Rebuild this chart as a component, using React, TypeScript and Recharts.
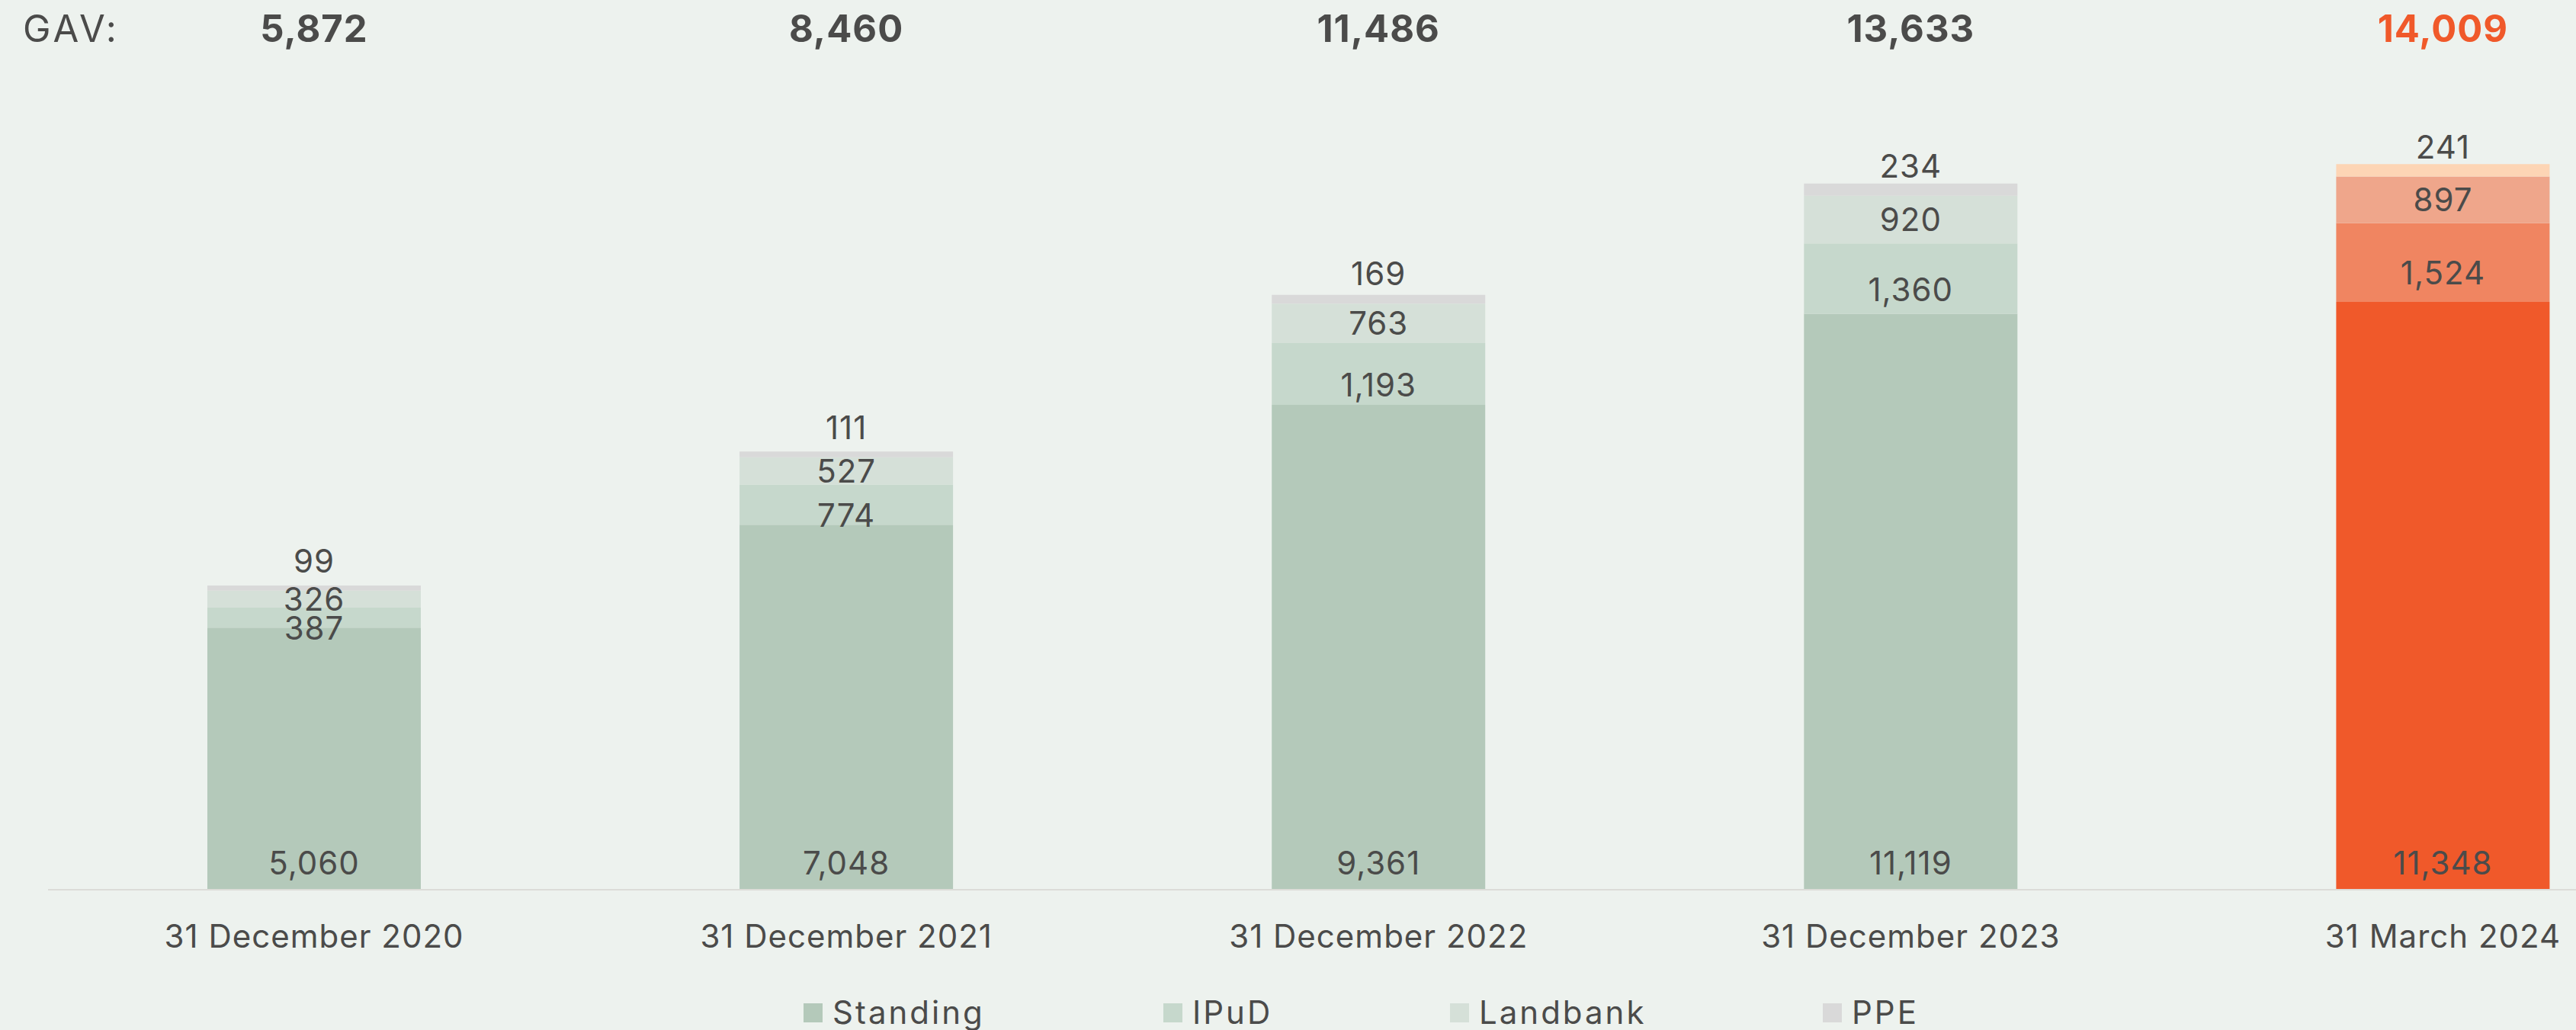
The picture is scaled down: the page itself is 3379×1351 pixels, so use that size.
import React from 'react';
import { BarChart, Bar, XAxis, YAxis, Cell, LabelList } from 'recharts';

const categories = ['31 December 2020', '31 December 2021', '31 December 2022', '31 December 2023', '31 March 2024'];
const standing = [5060, 7048, 9361, 11119, 11348];
const ipud = [387, 774, 1193, 1360, 1524];
const landbank = [326, 527, 763, 920, 897];
const ppe = [99, 111, 169, 234, 241];
const gav = [5872, 8460, 11486, 13633, 14009];
const seriesNames = ['Standing', 'IPuD', 'Landbank', 'PPE'];

const GREEN = ['#b4c9ba', '#c6d8cc', '#d5e0d8', '#d9d9d9'];
const ORANGE = ['#f0592a', '#f08561', '#efa68b', '#fdd5b5'];
const HIGHLIGHT = 4;

const FONT = 'Inter, "Noto Sans", sans-serif';
const TEXT = '#4b4b4a';
const BG = '#edf2ee';
const LEGEND_LEFT = [1054, 1526, 1902, 2391];

const data = categories.map((c, i) => ({
  idx: i,
  name: c,
  standing: standing[i],
  ipud: ipud[i],
  landbank: landbank[i],
  ppe: ppe[i],
  gav: gav[i],
}));

const fmt = (v: number) => v.toLocaleString('en-US');

function box(props: any) {
  const vb = props.viewBox || {};
  return {
    x: props.x ?? vb.x,
    y: props.y ?? vb.y,
    width: props.width ?? vb.width,
    height: props.height ?? vb.height,
  };
}

const labelStyle = { fontSize: 42, fontFamily: FONT, fill: TEXT, letterSpacing: 1 } as any;

const StandingLabel = (props: any) => {
  const { x, y, width, height } = box(props);
  return (
    <text x={x + width / 2} y={y + height - 20} textAnchor="middle" style={labelStyle}>
      {fmt(props.value)}
    </text>
  );
};

const IpudLabel = (props: any) => {
  const { x, y, width, height } = box(props);
  return (
    <text x={x + width / 2} y={y + height / 2 + 14} dy="0.36em" textAnchor="middle" style={labelStyle}>
      {fmt(props.value)}
    </text>
  );
};

const LandbankLabel = (props: any) => {
  const { x, y, width, height } = box(props);
  return (
    <text x={x + width / 2} y={y + height / 2} dy="0.36em" textAnchor="middle" style={labelStyle}>
      {fmt(props.value)}
    </text>
  );
};

const PpeLabel = (props: any) => {
  const { x, y, width, height } = box(props);
  return (
    <text x={x + width / 2} y={y + height - 24} textAnchor="middle" style={labelStyle}>
      {fmt(props.value)}
    </text>
  );
};

const GavLabel = (props: any) => {
  const { x, width } = box(props);
  const i = props.index;
  return (
    <text x={x + width / 2} y={55} textAnchor="middle" fontSize={49} fontWeight={700} fontFamily={FONT} fill={i === HIGHLIGHT ? ORANGE[0] : TEXT} style={{ letterSpacing: 1 }}>
      {fmt(gav[i])}
    </text>
  );
};

const keys = ['standing', 'ipud', 'landbank', 'ppe'];

export default function App() {
  return (
    <div style={{ position: 'absolute', left: 0, top: 0, width: 3379, height: 1351, background: BG, overflow: 'hidden' }}>
      <div style={{ position: 'absolute', left: 30, top: 8, fontFamily: FONT, fontSize: 49, color: TEXT, lineHeight: '60px', letterSpacing: 4 }}>GAV:</div>
      <BarChart width={3379} height={1351} data={data} margin={{ top: 80, right: 0, bottom: 0, left: 63 }}>
        <XAxis
          dataKey="idx"
          type="number"
          domain={[-0.5, 4.25]}
          ticks={[0, 1, 2, 3, 4]}
          interval={0}
          allowDataOverflow
          tickFormatter={(v: number) => categories[v]}
          height={184}
          tickLine={false}
          tickSize={0}
          tickMargin={46}
          axisLine={{ stroke: '#dcdcd8', strokeWidth: 2 }}
          tick={{ fontSize: 42, fontFamily: FONT, fill: TEXT, style: { letterSpacing: 1 } }}
        />
        <YAxis hide domain={[0, 16000]} />
        {keys.map((k, si) => (
          <Bar key={k} dataKey={k} name={seriesNames[si]} stackId="a" barSize={280} isAnimationActive={false}>
            {data.map((d, i) => (
              <Cell key={i} fill={i === HIGHLIGHT ? ORANGE[si] : GREEN[si]} />
            ))}
            {si === 0 && <LabelList dataKey={k} content={StandingLabel} />}
            {si === 1 && <LabelList dataKey={k} content={IpudLabel} />}
            {si === 2 && <LabelList dataKey={k} content={LandbankLabel} />}
            {si === 3 && <LabelList dataKey={k} content={PpeLabel} />}
            {si === 3 && <LabelList dataKey="gav" content={GavLabel} />}
          </Bar>
        ))}
      </BarChart>
      {seriesNames.map((n, i) => (
        <div
          key={n}
          style={{
            position: 'absolute',
            left: LEGEND_LEFT[i],
            top: 1300,
            display: 'flex',
            alignItems: 'center',
            fontFamily: FONT,
            fontSize: 42,
            color: TEXT,
            lineHeight: '56px',
            letterSpacing: 3,
            whiteSpace: 'nowrap',
          }}
        >
          <span style={{ display: 'inline-block', width: 25, height: 25, background: GREEN[i], marginRight: 13 }} />
          <span>{n}</span>
        </div>
      ))}
    </div>
  );
}
